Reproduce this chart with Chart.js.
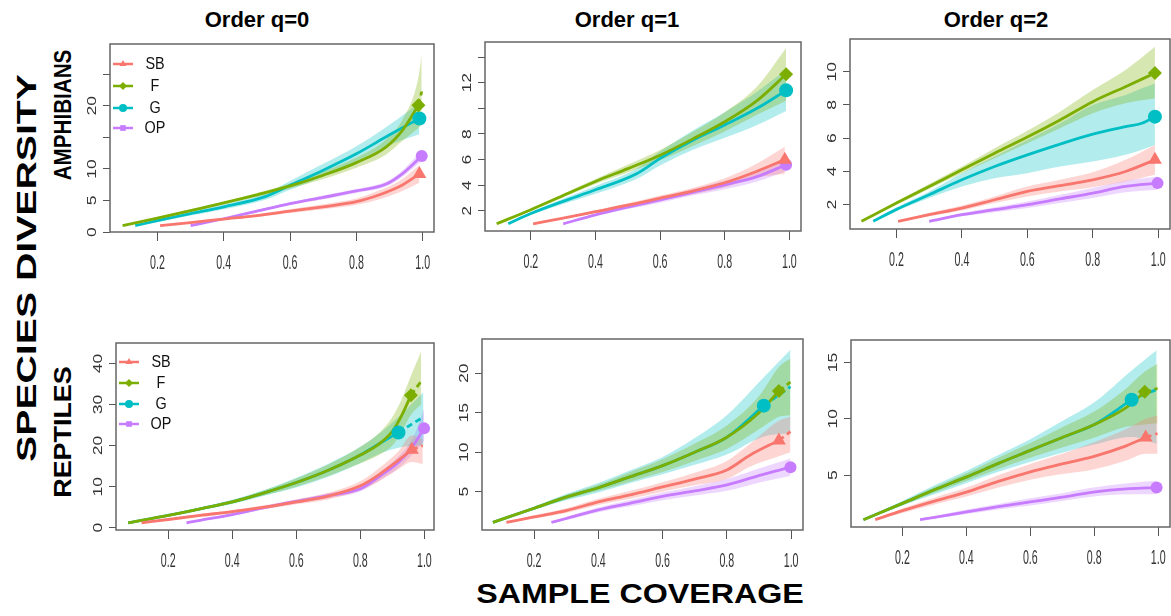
<!DOCTYPE html>
<html>
<head>
<meta charset="utf-8">
<script src="https://cdn.jsdelivr.net/npm/chart.js"></script>
<style>
  body { margin: 0; background: #fff; width: 1171px; height: 616px; position: relative; overflow: hidden;
         font-family: "Liberation Sans", Arial, sans-serif; }
  canvas { position: absolute; }
  .lbl { position: absolute; font-weight: bold; white-space: nowrap; color: #000; line-height: 1; }
</style>
</head>
<body>
<div class="lbl" style="left:257px;top:20px;font-size:22px;transform:translate(-50%,-50%)">Order q=0</div>
<div class="lbl" style="left:627px;top:20px;font-size:22px;transform:translate(-50%,-50%)">Order q=1</div>
<div class="lbl" style="left:996px;top:20px;font-size:22px;transform:translate(-50%,-50%)">Order q=2</div>
<div class="lbl" style="left:27px;top:268px;font-size:28px;transform:translate(-50%,-50%) rotate(-90deg) scaleX(1.4)">SPECIES DIVERSITY</div>
<div class="lbl" style="left:63px;top:115px;font-size:24px;transform:translate(-50%,-50%) rotate(-90deg) scaleX(0.86)">AMPHIBIANS</div>
<div class="lbl" style="left:63px;top:432px;font-size:24px;transform:translate(-50%,-50%) rotate(-90deg) scaleX(1.12)">REPTILES</div>
<div class="lbl" style="left:640px;top:594px;font-size:28px;transform:translate(-50%,-50%) scaleX(1.15)">SAMPLE COVERAGE</div>

<canvas id="p0"></canvas>
<canvas id="p1"></canvas>
<canvas id="p2"></canvas>
<canvas id="p3"></canvas>
<canvas id="p4"></canvas>
<canvas id="p5"></canvas>

<script>
var groups = ['SB', 'F', 'G', 'OP'];
var xTicks = [0.2, 0.4, 0.6, 0.8, 1.0];
var xTickLabels = ['0.2', '0.4', '0.6', '0.8', '1.0'];

// rows: [sample coverage, estimate, lower 95%, upper 95%]
// observed coverage per group (SB, F, G, OP): solid up to it, dashed after

// amphibians, q=0
var amph_q0_SB = [[0.208,1.0,1.0,1.0],[0.3,1.5,1.4,1.6],[0.4,2.05,1.9,2.2],[0.5,2.6,2.4,2.8],[0.6,3.3,3.0,3.6],[0.7,4.0,3.6,4.4],[0.8,4.8,4.3,5.3],[0.87,5.9,5.2,6.6],[0.93,7.2,6.3,8.1],[0.99,9.2,7.8,10.6]];
var amph_q0_F = [[0.095,1.0,1.0,1.0],[0.2,2.2,2.0,2.4],[0.3,3.4,3.2,3.6],[0.4,4.6,4.4,4.8],[0.5,5.9,5.6,6.2],[0.6,7.3,6.9,7.7],[0.7,9.0,8.4,9.6],[0.8,11.0,10.2,11.8],[0.89,13.5,12.3,14.7],[0.94,16.2,14.5,17.9],[0.987,20.1,16.5,24.5],[0.997,22.3,17.0,28.2]];
var amph_q0_G = [[0.133,1.0,1.0,1.0],[0.2,1.8,1.6,2.0],[0.3,2.9,2.6,3.2],[0.4,4.0,3.6,4.4],[0.525,5.6,5.1,6.1],[0.6,7.4,6.7,8.1],[0.7,9.8,8.8,10.8],[0.8,12.4,11.2,13.6],[0.9,15.4,13.8,17.0],[0.99,18.0,15.5,20.5]];
var amph_q0_OP = [[0.30,1.0,1.0,1.0],[0.4,2.1,2.0,2.2],[0.5,3.3,3.1,3.5],[0.6,4.5,4.3,4.7],[0.7,5.5,5.2,5.8],[0.8,6.5,6.2,6.8],[0.89,7.6,7.2,8.0],[0.94,9.3,8.8,9.8],[0.997,12.05,11.2,12.9]];
var amph_q0_obs = [0.99, 0.987, 0.99, 0.997];
var amph_q0_yTicks = [0, 5, 10, 15, 20, 25];
var amph_q0_yLabels = ['0', '5', '10', '', '20', ''];

// amphibians, q=1
var amph_q1_SB = [[0.207,1.0,1.0,1.0],[0.3,1.45,1.4,1.5],[0.4,1.95,1.85,2.05],[0.5,2.45,2.3,2.6],[0.6,3.0,2.8,3.2],[0.7,3.55,3.3,3.8],[0.8,4.2,3.85,4.55],[0.9,5.1,4.6,5.7],[0.986,6.0,4.9,7.0]];
var amph_q1_F = [[0.094,1.0,1.0,1.0],[0.2,2.1,2.0,2.2],[0.3,3.2,3.05,3.35],[0.4,4.3,4.1,4.5],[0.5,5.3,5.0,5.6],[0.6,6.35,5.95,6.75],[0.7,7.6,7.05,8.15],[0.8,8.95,8.2,9.7],[0.9,10.6,9.5,11.7],[0.99,12.65,10.6,14.7]];
var amph_q1_G = [[0.13,1.0,1.0,1.0],[0.2,1.8,1.7,1.9],[0.3,2.75,2.55,2.95],[0.4,3.65,3.35,3.95],[0.527,4.9,4.5,5.3],[0.6,6.1,5.55,6.65],[0.7,7.5,6.75,8.25],[0.8,8.7,7.7,9.7],[0.9,10.0,8.7,11.3],[0.99,11.4,9.8,13.0]];
var amph_q1_OP = [[0.30,1.0,1.0,1.0],[0.4,1.7,1.6,1.8],[0.5,2.3,2.15,2.45],[0.6,2.86,2.65,3.05],[0.7,3.45,3.2,3.7],[0.8,4.03,3.7,4.35],[0.9,4.68,4.3,5.1],[0.99,5.6,5.1,6.1]];
var amph_q1_obs = [0.986, 0.99, 0.99, 0.99];
var amph_q1_yTicks = [2, 4, 6, 8, 10, 12, 14];
var amph_q1_yLabels = ['2', '4', '6', '8', '', '12', ''];

// amphibians, q=2
var amph_q2_SB = [[0.205,1.0,1.0,1.0],[0.3,1.4,1.3,1.5],[0.4,1.8,1.65,1.95],[0.5,2.3,2.1,2.5],[0.6,2.8,2.5,3.1],[0.7,3.15,2.8,3.5],[0.8,3.5,3.05,3.95],[0.9,4.0,3.4,4.7],[0.99,4.7,3.8,5.6]];
var amph_q2_F = [[0.093,1.0,1.0,1.0],[0.2,2.1,2.0,2.2],[0.3,3.1,2.95,3.25],[0.4,4.1,3.9,4.3],[0.5,5.1,4.8,5.4],[0.6,6.07,5.7,6.45],[0.7,7.1,6.6,7.6],[0.8,8.2,7.5,8.9],[0.9,9.1,8.1,10.1],[0.99,9.92,8.4,11.5]];
var amph_q2_G = [[0.129,1.0,1.0,1.0],[0.2,1.72,1.62,1.82],[0.3,2.6,2.4,2.8],[0.4,3.5,3.1,3.9],[0.5,4.3,3.6,4.9],[0.6,5.0,3.9,5.9],[0.7,5.65,4.3,6.9],[0.8,6.25,4.6,8.0],[0.9,6.7,5.0,8.6],[0.95,6.9,5.3,9.0],[0.99,7.3,5.6,9.3]];
var amph_q2_OP = [[0.30,1.0,1.0,1.0],[0.4,1.4,1.3,1.5],[0.5,1.7,1.55,1.85],[0.6,2.0,1.8,2.2],[0.7,2.35,2.1,2.6],[0.8,2.7,2.4,3.0],[0.9,3.1,2.75,3.45],[0.998,3.3,2.9,3.7]];
var amph_q2_obs = [0.99, 0.99, 0.99, 0.998];
var amph_q2_yTicks = [2, 4, 6, 8, 10];
var amph_q2_yLabels = ['2', '4', '6', '8', '10'];

// reptiles, q=0
var rept_q0_SB = [[0.117,1.2,1.1,1.3],[0.2,2.0,1.8,2.2],[0.3,3.0,2.7,3.3],[0.4,3.9,3.5,4.3],[0.5,5.0,4.5,5.5],[0.6,6.3,5.7,6.9],[0.7,7.7,6.9,8.5],[0.8,10.2,9.1,11.3],[0.86,13.0,11.4,14.6],[0.92,16.5,14.3,18.7],[0.961,19.0,16.0,22.5],[0.995,20.0,15.5,21.5]];
var rept_q0_F = [[0.075,1.2,1.1,1.3],[0.2,3.0,2.8,3.2],[0.3,4.6,4.3,4.9],[0.4,6.3,5.9,6.7],[0.5,8.5,7.9,9.1],[0.6,11.0,10.0,12.0],[0.7,14.0,12.6,15.4],[0.8,17.7,15.7,19.7],[0.86,20.5,17.8,23.2],[0.9,23.5,20.0,27.0],[0.93,27.5,23.5,31.5],[0.958,32.3,27.5,37.0],[0.99,35.7,30.0,43.0]];
var rept_q0_G = [[0.075,1.2,1.1,1.3],[0.2,3.0,2.8,3.2],[0.3,4.6,4.3,4.9],[0.4,6.3,5.8,6.8],[0.5,8.5,7.8,9.2],[0.6,11.0,9.8,12.2],[0.7,14.0,12.4,15.6],[0.8,17.7,15.7,19.7],[0.86,20.5,18.0,23.0],[0.919,23.2,19.5,27.0],[0.997,27.0,20.0,33.0]];
var rept_q0_OP = [[0.257,1.2,1.1,1.3],[0.3,1.8,1.6,2.0],[0.4,3.2,2.9,3.5],[0.5,4.9,4.5,5.3],[0.6,6.4,5.9,6.9],[0.7,7.8,7.2,8.4],[0.8,9.5,8.8,10.2],[0.86,12.5,11.5,13.5],[0.92,16.0,14.6,17.4],[0.965,20.0,18.0,22.0],[0.999,24.2,21.0,29.0]];
var rept_q0_obs = [0.961, 0.958, 0.919, 0.999];
var rept_q0_yTicks = [0, 10, 20, 30, 40];
var rept_q0_yLabels = ['0', '10', '20', '30', '40'];

// reptiles, q=1
var rept_q1_SB = [[0.114,1.1,1.0,1.2],[0.2,1.8,1.6,2.0],[0.3,2.6,2.3,2.9],[0.4,3.7,3.3,4.1],[0.5,4.6,4.1,5.1],[0.6,5.6,5.0,6.2],[0.7,6.6,5.8,7.4],[0.8,7.75,6.6,8.9],[0.873,9.65,8.2,11.1],[0.962,11.5,9.5,14.0],[0.998,12.6,10.0,14.5]];
var rept_q1_F = [[0.072,1.1,1.0,1.2],[0.2,2.9,2.7,3.1],[0.3,4.3,4.0,4.6],[0.4,5.5,5.1,5.9],[0.5,6.9,6.3,7.5],[0.6,8.3,7.5,9.1],[0.7,10.0,8.9,11.1],[0.8,11.9,10.4,13.4],[0.9,15.0,12.9,17.1],[0.962,17.76,14.5,20.8],[0.998,18.9,14.7,21.9]];
var rept_q1_G = [[0.072,1.1,1.0,1.2],[0.2,2.9,2.7,3.1],[0.3,4.3,3.9,4.7],[0.4,5.5,4.9,6.1],[0.5,6.9,6.1,7.7],[0.6,8.3,7.2,9.4],[0.7,10.0,8.4,11.8],[0.8,11.9,9.7,14.7],[0.915,15.9,12.0,19.5],[0.998,18.3,12.4,23.0]];
var rept_q1_OP = [[0.254,1.1,1.0,1.2],[0.3,1.6,1.4,1.8],[0.4,2.7,2.4,3.0],[0.5,3.55,3.15,3.95],[0.6,4.4,3.9,4.9],[0.7,5.1,4.5,5.7],[0.8,5.85,5.1,6.6],[0.905,7.1,6.2,8.0],[0.998,8.1,7.0,9.2]];
var rept_q1_obs = [0.962, 0.962, 0.915, 0.998];
var rept_q1_yTicks = [5, 10, 15, 20];
var rept_q1_yLabels = ['5', '10', '15', '20'];

// reptiles, q=2
var rept_q2_SB = [[0.115,1.05,1.0,1.1],[0.2,1.85,1.65,2.05],[0.3,2.7,2.4,3.0],[0.4,3.5,3.1,3.9],[0.5,4.45,3.9,5.0],[0.6,5.3,4.6,6.0],[0.7,6.0,5.1,6.9],[0.797,6.65,5.5,7.9],[0.9,7.6,6.3,9.1],[0.961,8.35,6.9,10.0],[0.998,8.7,6.9,10.3]];
var rept_q2_F = [[0.078,1.05,1.0,1.1],[0.2,2.5,2.35,2.65],[0.3,3.7,3.45,3.95],[0.401,4.85,4.5,5.2],[0.5,6.05,5.55,6.55],[0.6,7.2,6.55,7.85],[0.7,8.35,7.45,9.25],[0.797,9.45,8.3,10.6],[0.9,11.0,9.3,12.7],[0.958,12.4,9.5,14.2],[0.998,12.7,9.6,14.9]];
var rept_q2_G = [[0.078,1.05,1.0,1.1],[0.2,2.5,2.3,2.7],[0.3,3.7,3.3,4.1],[0.401,4.85,4.3,5.4],[0.5,6.05,5.3,6.8],[0.6,7.2,6.2,8.2],[0.7,8.35,7.0,9.8],[0.797,9.45,7.7,11.4],[0.917,11.7,8.4,14.3],[0.995,12.6,7.8,16.1]];
var rept_q2_OP = [[0.255,1.05,1.0,1.1],[0.3,1.25,1.15,1.35],[0.401,1.74,1.55,1.95],[0.5,2.2,1.95,2.45],[0.6,2.63,2.3,2.95],[0.7,3.05,2.7,3.4],[0.797,3.5,3.1,3.9],[0.911,3.8,3.3,4.3],[0.995,3.9,3.3,4.5]];
var rept_q2_obs = [0.961, 0.958, 0.917, 0.995];
var rept_q2_yTicks = [5, 10, 15];
var rept_q2_yLabels = ['5', '10', '15'];

var colors = ['#F8766D', '#7CAE00', '#00BFC4', '#C77CFF'];
var markerStyle = ['triangle', 'rectRot', 'circle', 'circle'];
var markerSize = [8, 7, 7, 6];
var legendStyle = ['triangle', 'rectRot', 'circle', 'rect'];

// frame = [left, top, right, bottom] on the page
var panels = [
  {id: 'p0', frame: [110, 44, 434, 232], x: [0.057, 1.034], y: [0, 29.8], series: [amph_q0_SB, amph_q0_F, amph_q0_G, amph_q0_OP], obs: amph_q0_obs, yTicks: amph_q0_yTicks, yLabels: amph_q0_yLabels, legend: [20, 42, 64, 84]},
  {id: 'p1', frame: [485, 42, 801, 231], x: [0.058, 1.036], y: [0.44, 15.17], series: [amph_q1_SB, amph_q1_F, amph_q1_G, amph_q1_OP], obs: amph_q1_obs, yTicks: amph_q1_yTicks, yLabels: amph_q1_yLabels},
  {id: 'p2', frame: [850, 39, 1170, 229], x: [0.058, 1.036], y: [0.54, 11.97], series: [amph_q2_SB, amph_q2_F, amph_q2_G, amph_q2_OP], obs: amph_q2_obs, yTicks: amph_q2_yTicks, yLabels: amph_q2_yLabels},
  {id: 'p3', frame: [116, 343, 434, 530], x: [0.037, 1.03], y: [-0.56, 45], series: [rept_q0_SB, rept_q0_F, rept_q0_G, rept_q0_OP], obs: rept_q0_obs, yTicks: rept_q0_yTicks, yLabels: rept_q0_yLabels, legend: [19, 40, 61, 81]},
  {id: 'p4', frame: [482, 339, 803, 530], x: [0.038, 1.037], y: [0.14, 24.35], series: [rept_q1_SB, rept_q1_F, rept_q1_G, rept_q1_OP], obs: rept_q1_obs, yTicks: rept_q1_yTicks, yLabels: rept_q1_yLabels},
  {id: 'p5', frame: [851, 340, 1170, 527], x: [0.039, 1.037], y: [0.4, 17.0], series: [rept_q2_SB, rept_q2_F, rept_q2_G, rept_q2_OP], obs: rept_q2_obs, yTicks: rept_q2_yTicks, yLabels: rept_q2_yLabels}
];

var padL = 40, padT = 8, padR = 8, padB = 45;
var tickY = 7, tickX = 9;
var lineW = 2.8;

function rgba(hex, a) {
  var n = parseInt(hex.slice(1), 16);
  return 'rgba(' + (n >> 16) + ',' + ((n >> 8) & 255) + ',' + (n & 255) + ',' + a + ')';
}

// frame, R-like tick labels and the small legend
var rStyle = {
  id: 'rStyle',
  afterDraw: function(chart, args, o) {
    var ctx = chart.ctx, a = chart.chartArea;
    var xs = chart.scales.x, ys = chart.scales.y;
    ctx.save();
    ctx.strokeStyle = '#666';
    ctx.lineWidth = 1.5;
    ctx.strokeRect(a.left, a.top, a.right - a.left, a.bottom - a.top);

    ctx.fillStyle = '#333';
    ctx.font = '13px "Liberation Sans", Arial, sans-serif';
    ctx.textAlign = 'center';
    ctx.textBaseline = 'middle';
    xs.ticks.forEach(function(t, i) {
      ctx.save();
      ctx.translate(xs.getPixelForValue(t.value), a.bottom + 31);
      ctx.scale(0.82, 1.6);
      ctx.fillText(xTickLabels[i], 0, 0);
      ctx.restore();
    });
    ys.ticks.forEach(function(t, i) {
      var lab = o.yLabels[i];
      if (!lab) return;
      ctx.save();
      ctx.translate(a.left - 18, ys.getPixelForValue(t.value));
      ctx.rotate(-Math.PI / 2);
      ctx.scale(1.35, 1);
      ctx.fillText(lab, 0, 0);
      ctx.restore();
    });

    if (o.legend) {
      groups.forEach(function(g, i) {
        var y = a.top + o.legend[i];
        ctx.strokeStyle = colors[i];
        ctx.lineWidth = 2.5;
        ctx.beginPath();
        ctx.moveTo(a.left + 3, y);
        ctx.lineTo(a.left + 23, y);
        ctx.stroke();
        ctx.fillStyle = colors[i];
        Chart.helpers.drawPoint(ctx, {pointStyle: legendStyle[i], radius: 4, rotation: 0, borderWidth: 0}, a.left + 13, y);
        ctx.save();
        ctx.fillStyle = '#111';
        ctx.font = '16px "Liberation Sans", Arial, sans-serif';
        ctx.translate(a.left + 45, y);
        ctx.scale(0.9, 1.05);
        ctx.fillText(g, 0, 0);
        ctx.restore();
      });
    }
    ctx.restore();
  }
};

function makePanel(p) {
  var f = p.frame;
  var cv = document.getElementById(p.id);
  var w = f[2] - f[0] + padL + padR, h = f[3] - f[1] + padT + padB;
  cv.width = w; cv.height = h;
  cv.style.left = (f[0] - padL) + 'px';
  cv.style.top = (f[1] - padT) + 'px';
  cv.style.width = w + 'px';
  cv.style.height = h + 'px';

  var ds = [];
  p.series.forEach(function(rows, i) {
    var obs = p.obs[i], col = colors[i];
    var pt = function(k) { return function(r) { return {x: r[0], y: r[k]}; }; };
    ds.push({data: rows.map(pt(3)), borderWidth: 0, pointRadius: 0, fill: '+1', backgroundColor: rgba(col, 0.3), order: 3});
    ds.push({data: rows.map(pt(2)), borderWidth: 0, pointRadius: 0, fill: false, order: 3});
    ds.push({data: rows.filter(function(r) { return r[0] <= obs; }).map(pt(1)), borderColor: col, borderWidth: lineW, pointRadius: 0, fill: false, order: 2});
    var ext = rows.filter(function(r) { return r[0] >= obs; });
    if (ext.length > 1) {
      ds.push({data: ext.map(pt(1)), borderColor: col, borderWidth: lineW, borderDash: [6, 4], pointRadius: 0, fill: false, order: 2});
    }
    var o = rows.filter(function(r) { return r[0] === obs; })[0];
    ds.push({data: [{x: o[0], y: o[1]}], showLine: false, pointStyle: markerStyle[i], pointRadius: markerSize[i],
             backgroundColor: col, borderColor: col, pointBorderWidth: 0, order: 1});
  });

  new Chart(cv, {
    type: 'line',
    data: {datasets: ds},
    options: {
      responsive: false,
      animation: false,
      devicePixelRatio: 1,
      events: [],
      elements: {line: {cubicInterpolationMode: 'monotone'}},
      layout: {padding: {left: padL - tickY, top: padT, right: padR, bottom: padB - tickX}},
      plugins: {
        legend: {display: false},
        tooltip: {enabled: false},
        filler: {drawTime: 'beforeDatasetsDraw'},
        rStyle: {yLabels: p.yLabels, legend: p.legend}
      },
      scales: {
        x: {
          type: 'linear', min: p.x[0], max: p.x[1],
          afterBuildTicks: function(s) { s.ticks = xTicks.map(function(v) { return {value: v}; }); },
          ticks: {display: false},
          grid: {drawOnChartArea: false, drawTicks: true, tickLength: tickX, color: '#555', lineWidth: 1},
          border: {display: false}
        },
        y: {
          type: 'linear', min: p.y[0], max: p.y[1],
          afterBuildTicks: function(s) { s.ticks = p.yTicks.map(function(v) { return {value: v}; }); },
          ticks: {display: false},
          grid: {drawOnChartArea: false, drawTicks: true, tickLength: tickY, color: '#555', lineWidth: 1},
          border: {display: false}
        }
      }
    },
    plugins: [rStyle]
  });
}

panels.forEach(makePanel);
</script>
</body>
</html>
